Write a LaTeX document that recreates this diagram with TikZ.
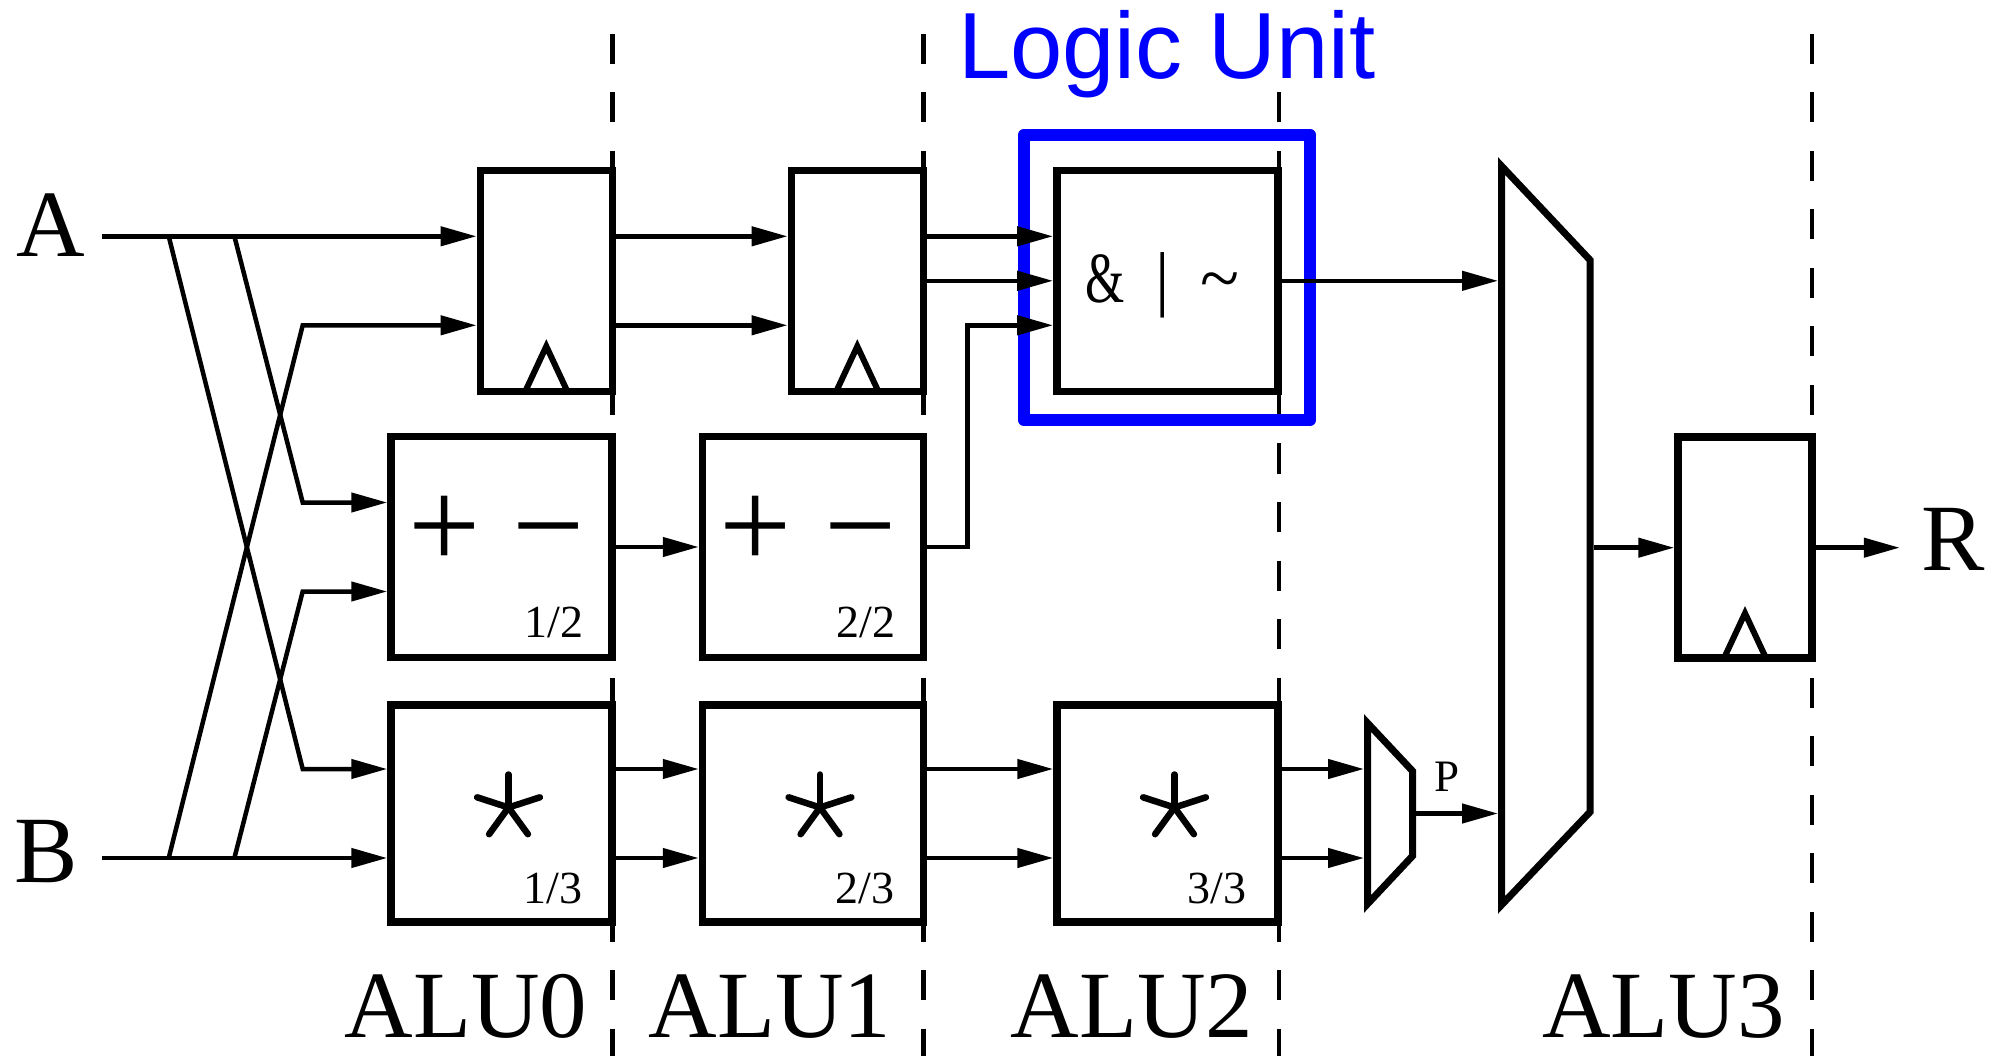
\documentclass[tikz,border=0pt]{standalone}
\usepackage{fontspec}
\setmainfont{Liberation Serif}
\newfontfamily\unitfont{Liberation Sans}
\usepackage{tikz}
\usetikzlibrary{arrows.meta,calc,positioning}

\begin{document}
\begin{tikzpicture}[
  x=1pt,y=-1pt,
  box/.style={draw,line width=7.5pt,inner sep=0pt},
  regbox/.style={box,minimum width=132pt,minimum height=221pt},
  alubox/.style={box,minimum width=221pt,minimum height=221pt},
  mulbox/.style={box,minimum width=221pt,minimum height=217pt},
  wire/.style={line width=4.5pt},
  sig/.style={wire,-{Triangle[length=36pt,width=19pt]}},
  stageline/.style={line width=4.5pt,dash pattern=on 30pt off 28.5pt},
  clock/.style={line width=6pt,line join=miter},
  muxshape/.style={line width=7pt,line join=miter},
  starline/.style={line width=6.5pt,line cap=round},
  unitframe/.style={draw=blue,line width=12.5pt,line join=round,inner sep=0pt},
  biglabel/.style={inner sep=0pt,font=\fontsize{95}{100}\selectfont},
  frac/.style={inner sep=0pt,anchor=base east,font=\fontsize{46}{50}\selectfont},
  opsign/.style={inner sep=0pt,anchor=base,font=\fontsize{128}{140}\selectfont}
]
\useasboundingbox (0,0) rectangle (2003,1056);

% pipeline stage borders
\foreach \x in {612.3,923.5,1812}
  \draw[stageline] (\x,34) -- (\x,1056);
\draw[stageline] (1279,92.5) -- (1279,1056);

% stage blocks
\node[regbox] (reg1) at (546.3,280.8) {};
\node[regbox,right=171.5pt of reg1] (reg2) {};
\node[alubox,right=126pt of reg2] (logic) {};
\node[alubox] (add1) at (501.5,547) {};
\node[alubox,right=83pt of add1] (add2) {};
\node[mulbox,below=40pt of add1] (mul1) {};
\node[mulbox,right=83pt of mul1] (mul2) {};
\node[mulbox,right=126pt of mul2] (mul3) {};
\node[regbox,minimum width=134pt] (reg3) at (1745,547.7) {};

% clock marks and operators
\foreach \r in {reg1,reg2,reg3}
  \draw[clock] ($(\r.south)+(-21,-3.75)$) -- ++(21,-45) -- ++(21,45);
\node[opsign] (op1) at ($(add1.center)+(-5,21)$) {+ −};
\node[opsign] (op2) at ($(add2.center)+(-5,21)$) {+ −};
\foreach \m in {mul1,mul2,mul3}
  \foreach \a in {90,162,234,306,18}
    \draw[starline] ($(\m.center)+(7,-6)$) -- ++(\a:33pt);
\node[frac] (f1) at ($(add1.south east)+(-32,-24)$) {1/2};
\node[frac] (f2) at ($(add2.south east)+(-32,-24)$) {2/2};
\node[frac] (f3) at ($(mul1.south east)+(-33,-22)$) {1/3};
\node[frac] (f4) at ($(mul2.south east)+(-33,-22)$) {2/3};
\node[frac] (f5) at ($(mul3.south east)+(-35,-22)$) {3/3};
\node[inner sep=0pt,anchor=base,font=\fontsize{72}{76}\selectfont] (lop) at ($(logic.center)+(-4.75,22)$) {\scalebox{0.7}[1]{\&}\hspace{30.6pt}|\hspace{30.3pt}\textasciitilde};

% logic unit frame
\node[unitframe,minimum width=286pt,minimum height=285pt] (lu) at (1167,277.5) {};
\node[anchor=base,inner sep=0pt,text=blue,font=\unitfont\fontsize{94}{98}\selectfont] (lutext) at (1167,79) {Logic Unit};

% multiplexers
\coordinate (sm1) at (1367.5,723);
\coordinate (sm2) at (1412.5,771);
\coordinate (sm3) at (1412.5,856);
\coordinate (sm4) at (1367.5,904);
\draw[muxshape] (sm1) -- (sm2) -- (sm3) -- (sm4) -- cycle;
\coordinate (bm1) at (1501.5,166);
\coordinate (bm2) at (1590,260);
\coordinate (bm3) at (1590,812);
\coordinate (bm4) at (1501.5,905);
\draw[muxshape] (bm1) -- (bm2) -- (bm3) -- (bm4) -- cycle;
\coordinate (smin) at (1364,0);
\coordinate (bmin) at (1498,0);
\coordinate (smout) at (1416,813.5);
\coordinate (bmout) at (1593.5,547.7);
\node[inner sep=0pt,font=\fontsize{45}{48}\selectfont] (p) at (1447,777) {P};

% inputs and output
\node[biglabel,anchor=base west] (A) at (16,257) {A};
\node[biglabel,anchor=base west] (B) at (14,882) {B};
\node[biglabel,anchor=base west] (R) at (1921,570) {R};
\coordinate (ain) at (102,236.3);
\coordinate (bin) at (102,858);
\coordinate (a1) at (168.7,236.3);
\coordinate (a2) at (234.4,236.3);
\coordinate (b1) at (168.7,858);
\coordinate (b2) at (234.4,858);
\coordinate (bend) at (302.7,0);
\coordinate (r1i2) at ([yshift=-44.5pt]reg1.west);
\coordinate (a1i1) at ([yshift=44.5pt]add1.west);
\coordinate (a1i2) at ([yshift=-44.5pt]add1.west);
\coordinate (m1i1) at ([yshift=44.5pt]mul1.west);

\draw[sig] (ain) -- (ain -| reg1.west);
\draw[sig] (bin) -- (bin -| mul1.west);
\draw[sig] (a1) -- (m1i1 -| bend) -- (m1i1);
\draw[sig] (a2) -- (a1i1 -| bend) -- (a1i1);
\draw[sig] (b1) -- (r1i2 -| bend) -- (r1i2);
\draw[sig] (b2) -- (a1i2 -| bend) -- (a1i2);

% stage 0 -> 1
\draw[sig] ([yshift=44.5pt]reg1.east) -- ([yshift=44.5pt]reg2.west);
\draw[sig] ([yshift=-44.5pt]reg1.east) -- ([yshift=-44.5pt]reg2.west);
\draw[sig] (add1) -- (add2);
\draw[sig] ([yshift=44.5pt]mul1.east) -- ([yshift=44.5pt]mul2.west);
\draw[sig] ([yshift=-44.5pt]mul1.east) -- ([yshift=-44.5pt]mul2.west);

% stage 1 -> 2
\draw[sig] ([yshift=44.5pt]reg2.east) -- ([yshift=44.5pt]logic.west);
\draw[sig] (reg2) -- (logic);
\draw[sig] (add2.east) -- ++(40,0) |- ([yshift=-44.5pt]logic.west);
\draw[sig] ([yshift=44.5pt]mul2.east) -- ([yshift=44.5pt]mul3.west);
\draw[sig] ([yshift=-44.5pt]mul2.east) -- ([yshift=-44.5pt]mul3.west);

% stage 2 -> 3
\draw[sig] ([yshift=44.5pt]mul3.east) -- ([yshift=44.5pt]mul3.east -| smin);
\draw[sig] ([yshift=-44.5pt]mul3.east) -- ([yshift=-44.5pt]mul3.east -| smin);
\draw[sig] (smout) -- (smout -| bmin);
\draw[sig] (logic.east) -- (logic.east -| bmin);
\draw[sig] (bmout) -- (bmout -| reg3.west);
\draw[sig] (reg3.east) -- ++(84,0);

% stage names
\node[biglabel,anchor=base] (alu0) at (466,1037) {ALU0};
\node[biglabel,anchor=base] (alu1) at (770,1037) {ALU1};
\node[biglabel,anchor=base] (alu2) at (1132,1037) {ALU2};
\node[biglabel,anchor=base] (alu3) at (1663.5,1037) {ALU3};
\end{tikzpicture}
\end{document}
